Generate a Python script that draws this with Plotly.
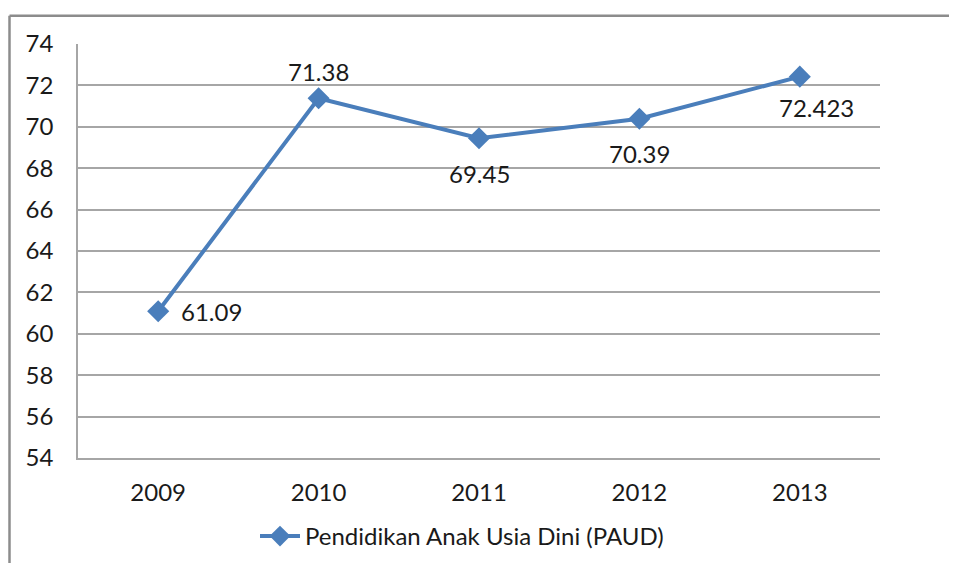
import plotly.graph_objects as go

years = ["2009", "2010", "2011", "2012", "2013"]
values = [61.09, 71.38, 69.45, 70.39, 72.423]
labels = ["61.09", "71.38", "69.45", "70.39", "72.423"]
series_name = "Pendidikan Anak Usia Dini (PAUD)"
y_ticks = list(range(54, 75, 2))

FONT = "Lato, 'Open Sans', sans-serif"
BLUE = "#4A7EBB"
GRID = "#A6A6A6"
TXT = "#1a1a1a"

W, H = 957, 563
OFF = 8  # page body margin
# plot area in page pixels
PL, PR, PT, PB = 78, 880, 44, 461
L = PL - OFF
T = PT - OFF
R = W - (PR - OFF)
B = H - (PB - OFF)
pw, ph = PR - PL, PB - PT


def px(xp):
    return (xp - PL) / pw


def py(yp):
    return (PB - yp) / ph


fig = go.Figure()
fig.add_trace(go.Scatter(
    x=years, y=values, mode="lines+markers", name=series_name,
    line=dict(color=BLUE, width=4),
    marker=dict(symbol="diamond", size=17, color=BLUE),
))

# label offsets (pixels) per point
shifts = [(53, 0), (0, 27), (0, -35), (0, -35), (17, -31)]
for i, (yv, t, (dx, dy)) in enumerate(zip(values, labels, shifts)):
    fig.add_annotation(x=i, y=yv, xref="x", yref="y", text=t, showarrow=False,
                       xshift=dx, yshift=dy,
                       font=dict(family=FONT, size=24, color=TXT))

# outer chart border (top and left visible)
fig.add_shape(type="line", xref="paper", yref="paper",
              x0=px(9.5), x1=px(970), y0=py(15.5), y1=py(15.5),
              line=dict(color="#8C8C8C", width=2.5))
fig.add_shape(type="line", xref="paper", yref="paper",
              x0=px(9.5), x1=px(9.5), y0=py(15.5), y1=py(580),
              line=dict(color="#8C8C8C", width=2.5))

fig.update_layout(
    width=W, height=H,
    margin=dict(l=L, r=R, t=T, b=B),
    plot_bgcolor="white", paper_bgcolor="white",
    font=dict(family=FONT, size=24, color=TXT),
    showlegend=True,
    legend=dict(orientation="h", x=px(255), xanchor="left", y=py(540), yanchor="middle",
                font=dict(family=FONT, size=24, color=TXT), itemwidth=40,
                bgcolor="rgba(0,0,0,0)"),
    xaxis=dict(type="category", range=[-0.5, 4.5], showgrid=False,
               showline=True, linecolor=GRID, linewidth=1.5, ticks="",
               tickfont=dict(family=FONT, size=24), ticklabelstandoff=12),
    yaxis=dict(range=[54, 74], tickvals=y_ticks, showgrid=True, gridcolor=GRID,
               gridwidth=1.5, showline=True, linecolor=GRID, linewidth=1.5,
               zeroline=False, ticks="", tickfont=dict(family=FONT, size=24),
               ticklabelstandoff=18),
)

fig.write_html("out.html")
